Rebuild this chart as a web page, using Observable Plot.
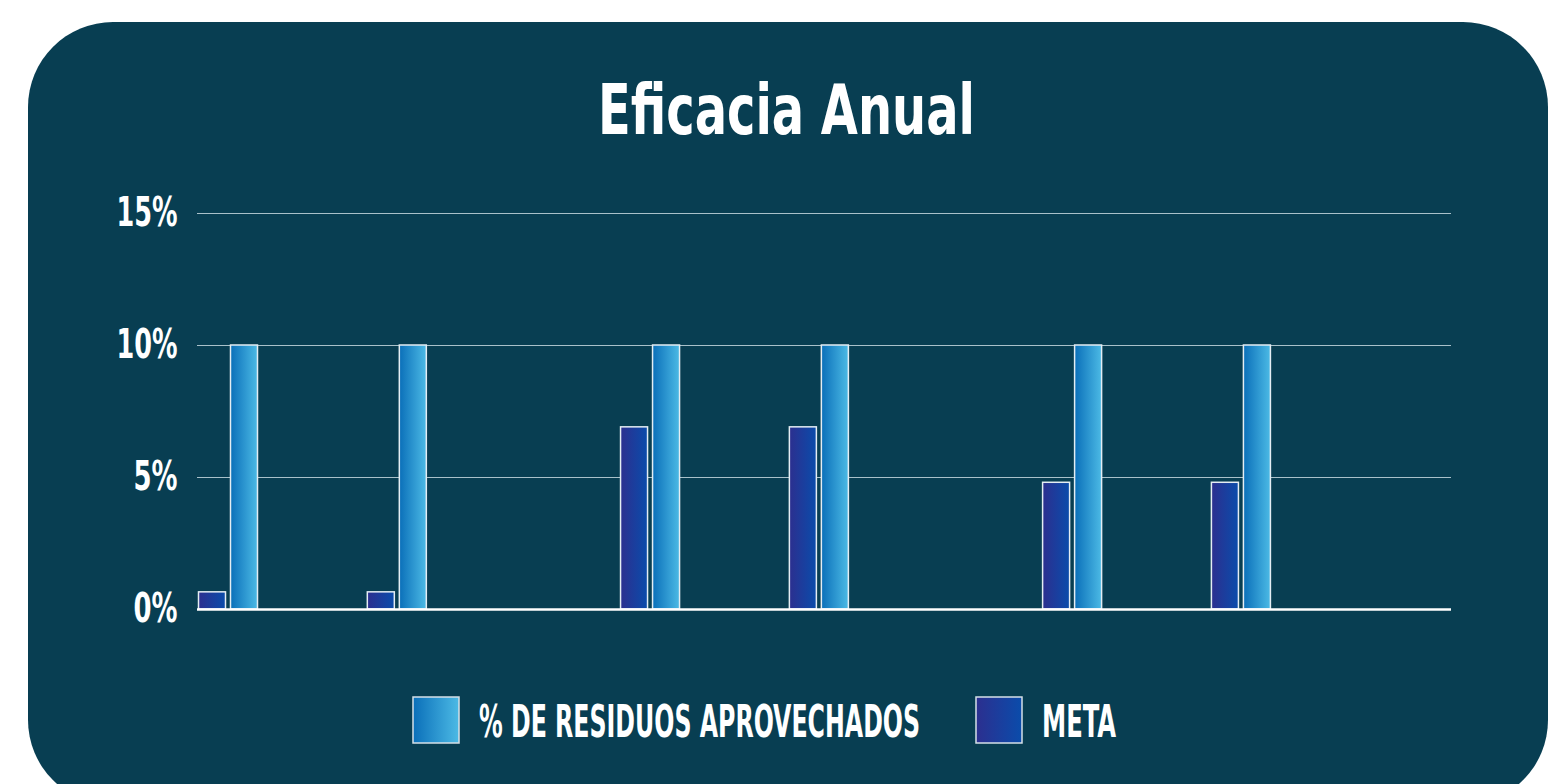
<!DOCTYPE html>
<html>
<head>
<meta charset="utf-8">
<script src="https://cdn.jsdelivr.net/npm/d3@7"></script>
<script src="https://cdn.jsdelivr.net/npm/@observablehq/plot@0.6"></script>
<style>
  html, body { margin: 0; padding: 0; background: #ffffff; }
  body { width: 1549px; height: 784px; overflow: hidden; position: relative;
         font-family: "DejaVu Sans", sans-serif; font-stretch: condensed; }
  #panel { position: absolute; left: 28px; top: 22px; width: 1520px; height: 783px;
           border-radius: 85px; background: #083e52; }
  #chart, #title, #legend { position: absolute; left: 0; top: 0; }
  svg text { font-stretch: condensed; }
</style>
</head>
<body>
<div id="panel"></div>
<svg id="title" width="1549" height="170"></svg>
<div id="chart"></div>
<svg id="legend" width="1549" height="784" style="pointer-events:none"></svg>
<script>
// ---- data ----
const chartTitle = "Eficacia Anual";
const periods = ["P1","P2","P3","P4","P5","P6","P7","P8","P9","P10","P11","P12","P13","P14","P15"];
const seriesNames = ["% DE RESIDUOS APROVECHADOS", "META"];
const aprovechados = [10, null, 10, null, null, 10, null, 10, null, null, 10, null, 10, null, null];
const meta        = [0.65, null, 0.65, null, null, 6.9, null, 6.9, null, null, 4.8, null, 4.8, null, null];
const yTicks = [0, 5, 10, 15];

const rows = periods.map((p, i) => ({period: p, aprovechados: aprovechados[i], meta: meta[i]}));

// ---- gradients (shared in document) ----
const defsHolder = d3.select("body").append("svg").attr("width", 0).attr("height", 0)
  .style("position", "absolute");
defsHolder.append("defs").html(`
  <linearGradient id="gRes" x1="0" x2="1" y1="0" y2="0">
    <stop offset="0" stop-color="#0a6fb9"/>
    <stop offset="1" stop-color="#4cbae5"/>
  </linearGradient>
  <linearGradient id="gMeta" x1="0" x2="1" y1="0" y2="0">
    <stop offset="0" stop-color="#2c2f8f"/>
    <stop offset="1" stop-color="#0a4cab"/>
  </linearGradient>`);

// ---- chart ----
const W = 1549, H = 784;
const left = 197, bandW = 84.41;
const xRange = [left, left + bandW * periods.length];

const chart = Plot.plot({
  width: W,
  height: H,
  marginLeft: left,
  marginRight: W - 1451,
  marginTop: 213,
  marginBottom: H - 609,
  style: { background: "transparent", color: "#ffffff",
           fontFamily: '"DejaVu Sans", sans-serif' },
  x: { domain: periods, range: xRange, padding: 0, round: false, axis: null },
  y: { domain: [0, 15], ticks: yTicks },
  marks: [
    Plot.ruleY(yTicks.filter(d => d > 0), { stroke: "#a9c1ca", strokeWidth: 1.2 }),
    Plot.axisY({ ticks: yTicks, tickSize: 0, tickPadding: 20, label: null,
                 tickFormat: d => d + "%", fontSize: 40, fontWeight: 700, fill: "#ffffff" }),
    Plot.barY(rows.filter(d => d.meta != null), {
      x: "period", y: "meta", fill: "url(#gMeta)", stroke: "#e4edf3", strokeWidth: 1.5,
      insetLeft: 1.5, insetRight: bandW - 28.5 }),
    Plot.barY(rows.filter(d => d.aprovechados != null), {
      x: "period", y: "aprovechados", fill: "url(#gRes)", stroke: "#e4edf3", strokeWidth: 1.5,
      insetLeft: 33.5, insetRight: bandW - 60.5 }),
    Plot.ruleY([0], { stroke: "#ffffff", strokeWidth: 2.5 })
  ]
});
document.getElementById("chart").appendChild(chart);

// narrow the tick labels to the reference's condensed look
d3.select(chart).selectAll('g[aria-label="y-axis tick label"] text').each(function () {
  const n = this.textContent.length;
  this.setAttribute("textLength", n > 2 ? 61 : 44);
  this.setAttribute("lengthAdjust", "spacingAndGlyphs");
});

// ---- title ----
d3.select("#title").append("text")
  .attr("x", 786.5).attr("y", 134)
  .attr("text-anchor", "middle")
  .attr("fill", "#ffffff")
  .attr("font-size", 70)
  .attr("font-weight", 700)
  .attr("textLength", 377)
  .attr("lengthAdjust", "spacingAndGlyphs")
  .text(chartTitle);

// ---- legend ----
const legendItems = [
  { name: seriesNames[0], fill: "url(#gRes)",  sx: 413, tx: 479,  tw: 441 },
  { name: seriesNames[1], fill: "url(#gMeta)", sx: 976, tx: 1042, tw: 74 }
];
const lg = d3.select("#legend");
legendItems.forEach(it => {
  lg.append("rect").attr("x", it.sx).attr("y", 697).attr("width", 46).attr("height", 46)
    .attr("fill", it.fill).attr("stroke", "#d5e0e7").attr("stroke-width", 1.5);
  lg.append("text")
    .attr("transform", `translate(${it.tx},737) scale(1,1.62)`)
    .attr("x", 0).attr("y", 0)
    .attr("fill", "#ffffff").attr("font-size", 27).attr("font-weight", 700)
    .attr("textLength", it.tw).attr("lengthAdjust", "spacingAndGlyphs")
    .text(it.name);
});
</script>
</body>
</html>
